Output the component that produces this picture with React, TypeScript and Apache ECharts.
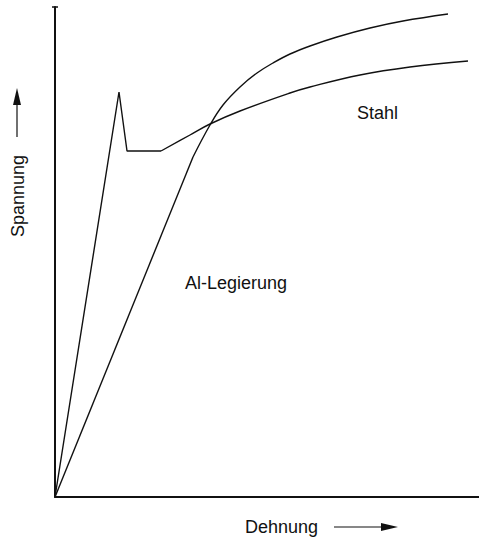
import React, { useEffect, useRef } from "react";
import * as echarts from "echarts";

// Qualitative stress-strain curves (arbitrary units)
const steelElastic: [number, number][] = [
  [0, 0], [64, 405], [72, 346], [106, 346],
];
const steelHardening: [number, number][] = [
  [106, 346], [135, 362], [155, 373], [185, 386], [235, 404],
  [255, 410], [305, 422], [355, 430], [413, 436],
];
const alLinear: [number, number][] = [
  [0, 0], [138, 340],
];
const alCurve: [number, number][] = [
  [138, 340], [155, 372], [168, 392], [185, 410], [202, 424], [218, 434],
  [235, 443], [255, 451], [282, 460], [315, 469], [348, 476], [393, 483],
];
const steelLabel = "Stahl";
const alLabel = "Al-Legierung";
const xLabel = "Dehnung";
const yLabel = "Spannung";

export default function App() {
  const ref = useRef<HTMLDivElement>(null);
  useEffect(() => {
    if (!ref.current) return;
    const chart = echarts.init(ref.current, null, { renderer: "svg" });
    const ink = "#111";
    const font = "Liberation Sans, Arial, sans-serif";
    const lineStyle = { color: ink, width: 1.4 };
    const mkSeries = (data: [number, number][], smooth: number | boolean) => ({
      type: "line",
      data,
      smooth,
      symbol: "none",
      clip: false,
      lineStyle,
    });
    chart.setOption({
      animation: false,
      backgroundColor: "#fff",
      grid: { left: 55, top: 7, width: 424, height: 490 },
      xAxis: {
        type: "value", min: 0, max: 424,
        axisLine: { show: true, lineStyle: { color: ink, width: 2 } },
        axisTick: { show: false }, axisLabel: { show: false }, splitLine: { show: false },
      },
      yAxis: {
        type: "value", min: 0, max: 490,
        axisLine: { show: true, lineStyle: { color: ink, width: 2 } },
        axisTick: { show: false }, axisLabel: { show: false }, splitLine: { show: false },
      },
      series: [
        mkSeries(steelElastic, false),
        mkSeries(steelHardening, 0.4),
        mkSeries(alLinear, false),
        mkSeries(alCurve, 0.4),
      ],
      graphic: [
        { type: "line", shape: { x1: 52, y1: 7, x2: 58, y2: 7 }, style: { stroke: ink, lineWidth: 1.5 } },
        { type: "text", x: 357, y: 113, style: { text: steelLabel, fontSize: 18, fontFamily: font, fill: ink, align: "left", verticalAlign: "middle" } },
        { type: "text", x: 185, y: 283, style: { text: alLabel, fontSize: 18, fontFamily: font, fill: ink, align: "left", verticalAlign: "middle" } },
        { type: "text", x: 245, y: 527, style: { text: xLabel, fontSize: 18, fontFamily: font, fill: ink, align: "left", verticalAlign: "middle" } },
        { type: "line", shape: { x1: 334, y1: 527, x2: 384, y2: 527 }, style: { stroke: ink, lineWidth: 1.2 } },
        { type: "polygon", shape: { points: [[381, 523], [398, 527], [381, 531]] }, style: { fill: ink } },
        { type: "text", x: 18, y: 196, rotation: Math.PI / 2, style: { text: yLabel, fontSize: 18, fontFamily: font, fill: ink, align: "center", verticalAlign: "middle" } },
        { type: "line", shape: { x1: 17, y1: 137, x2: 17, y2: 102 }, style: { stroke: ink, lineWidth: 1.2 } },
        { type: "polygon", shape: { points: [[13, 105], [17, 88], [21, 105]] }, style: { fill: ink } },
      ],
    });
    return () => chart.dispose();
  }, []);
  return (
    <div
      ref={ref}
      style={{ position: "fixed", left: 0, top: 0, width: 479, height: 539 }}
    />
  );
}
